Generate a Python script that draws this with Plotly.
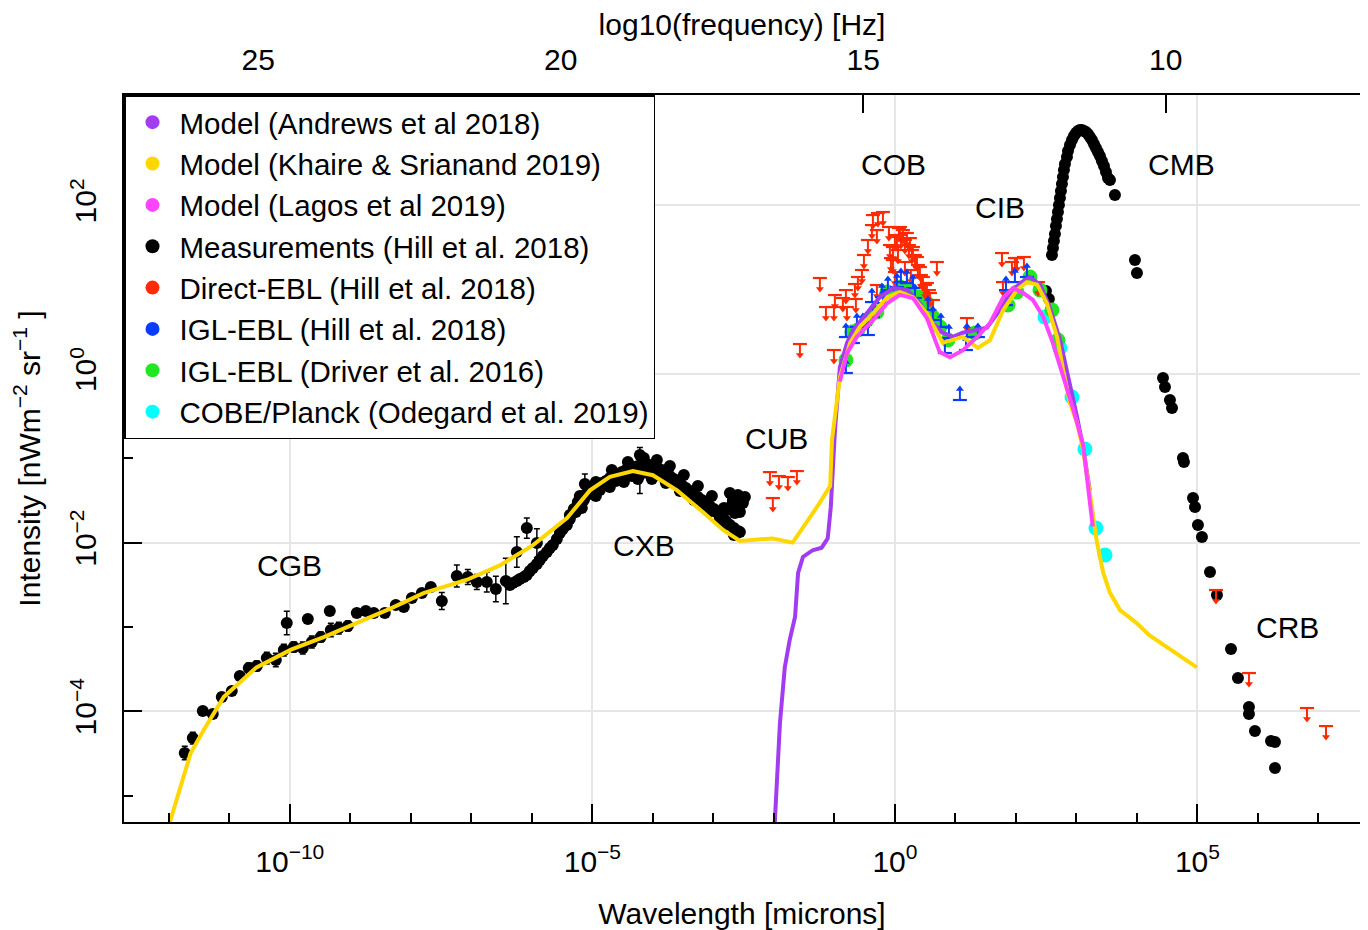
import numpy as np
import plotly.graph_objects as go

# ---------------- DATA (log10 wavelength [micron], log10 intensity [nW m^-2 sr^-1]) -------------
andrews_lwl = [-2.00, -1.983, -1.90, -1.82, -1.74, -1.65, -1.60, -1.52, -1.36, -1.21, -1.11, -1.06, -1.04, -0.99,
               -0.91, -0.79, -0.69, -0.46, -0.25, -0.03, 0.20, 0.41, 0.63, 0.79, 0.96, 1.12, 1.29, 1.52, 1.74,
               1.90, 2.07, 2.23, 2.40, 2.56, 2.73, 2.89, 3.01, 3.11, 3.22]
andrews_lI = [-5.53, -5.31, -4.14, -3.48, -3.16, -2.88, -2.36, -2.17, -2.09, -2.06, -1.95, -1.58, -1.34, -0.66,
              0.08, 0.37, 0.52, 0.72, 0.91, 1.02, 1.00, 0.84, 0.60, 0.49, 0.44, 0.49, 0.52, 0.55, 0.76,
              0.94, 1.08, 1.15, 1.06, 0.79, 0.40, -0.11, -0.51, -0.87, -1.38]

khaire_lwl = [-12.05, -11.98, -11.82, -11.64, -11.42, -11.09, -10.55, -9.98, -9.44, -8.89, -8.33, -7.79, -7.07,
              -6.53, -5.98, -5.42, -5.04, -4.71, -4.33, -4.00, -3.60, -3.17, -2.84, -2.56, -2.31, -2.02, -1.69,
              -1.52, -1.29, -1.07, -1.04, -0.91, -0.74, -0.58, -0.36, -0.13, 0.08, 0.30, 0.53, 0.79, 0.96, 1.12,
              1.37, 1.57, 1.79, 2.02, 2.18, 2.35, 2.51, 2.68, 2.78, 2.89, 3.01, 3.11, 3.22, 3.34, 3.44, 3.55,
              3.72, 3.97, 4.21, 4.63, 4.99]
khaire_lI = [-5.53, -5.31, -4.93, -4.50, -4.22, -3.83, -3.48, -3.27, -3.12, -2.95, -2.78, -2.60, -2.44,
             -2.27, -2.03, -1.71, -1.38, -1.22, -1.15, -1.20, -1.38, -1.64, -1.85, -1.98, -1.97, -1.95, -2.00,
             -1.83, -1.58, -1.33, -0.78, -0.04, 0.37, 0.56, 0.72, 0.91, 0.97, 0.91, 0.72, 0.37, 0.40, 0.44,
             0.31, 0.40, 0.76, 1.00, 1.09, 1.06, 0.84, 0.44, 0.05, -0.34, -0.58, -0.90, -1.41, -2.00, -2.35, -2.59,
             -2.80, -2.94, -3.10, -3.30, -3.48]

lagos_lwl = [-0.91, -0.79, -0.63, -0.36, -0.13, 0.08, 0.30, 0.53, 0.74, 0.91, 1.12, 1.36, 1.57, 1.79, 1.95,
             2.12, 2.28, 2.45, 2.61, 2.78, 2.94, 3.11, 3.27]
lagos_lI = [-0.09, 0.25, 0.44, 0.64, 0.84, 0.94, 0.90, 0.66, 0.26, 0.20, 0.28, 0.44, 0.60, 0.91, 1.02,
            0.96, 0.88, 0.68, 0.37, -0.01, -0.40, -0.84, -1.81]

# Measurements (Hill et al. 2018): CGB, CXB, CIB, CMB, CRB ; err = error bar half length in dex
meas_lwl = [
    # CGB
    -11.736, -11.603, -11.438, -11.273, -11.124, -10.959, -10.826, -10.678, -10.545, -10.380, -10.231, -10.099,
    -10.050, -9.934, -9.785, -9.702, -9.636, -9.488, -9.339, -9.322, -9.190, -9.041, -8.893, -8.744, -8.612,
    -8.430, -8.248, -8.116, -7.983, -7.818, -7.669, -7.488, -7.240, -7.058, -6.909, -6.744, -6.595, -6.430,
    -6.248, -6.083, -5.917,
    # CXB rise
    -6.364, -6.314, -6.248, -6.198, -6.132, -6.083, -6.033, -5.983, -5.917, -5.868, -5.818, -5.752, -5.702,
    -5.653, -5.587, -5.537, -5.488, -5.421, -5.372, -5.322, -5.273, -5.223, -5.174, -5.124, -5.124, -4.926,
    # CXB band
    -5.372, -5.306, -5.240, -5.174, -5.107, -5.041, -4.975, -4.909, -4.843, -4.777, -4.711, -4.645, -4.579,
    -4.512, -4.446, -4.380, -4.314, -4.248, -4.182, -4.116, -4.050, -3.983, -3.917, -3.851, -3.785, -3.719,
    -3.653, -3.587, -3.521, -3.455, -3.388, -3.322, -3.256, -3.190, -3.124, -3.058, -2.992, -2.926, -2.860,
    -2.793, -2.727, -2.661, -2.595,
    -5.273, -5.140, -5.008, -4.876, -4.744, -4.612, -4.479, -4.347, -4.215, -4.083, -3.950, -3.818, -3.686,
    -3.554, -3.421, -3.289, -3.157, -3.025, -2.893, -2.760, -2.628,
    -5.207, -4.942, -4.678, -4.413, -4.149, -3.934, -3.719, -3.488, -3.256, -3.025, -2.826,
    -5.174, -4.942, -4.711, -4.479, -4.248, -4.017, -3.785, -3.554, -3.322, -3.091, -2.860, -2.661,
    -2.777, -2.727, -2.678, -2.645, -2.612, -2.562, -2.512, -2.479, -2.595, -2.694, -2.562,
    -4.215, -4.215,
    # CIB
    2.496, 2.545,
    # CMB
    2.595, 2.612, 2.628, 2.645, 2.661, 2.678, 2.694, 2.711, 2.727, 2.744, 2.760, 2.777, 2.793, 2.810, 2.843,
    2.860, 2.893, 2.926, 2.959, 2.992, 3.025, 3.058, 3.091, 3.124, 3.157, 3.190, 3.223, 3.256, 3.289, 3.322,
    3.355, 3.388, 3.421, 3.455, 3.488, 3.521, 3.554, 3.636,
    # CMB tail / CRB
    3.967, 4.000, 4.430, 4.463, 4.545, 4.579, 4.760, 4.777, 4.926, 4.959, 5.008, 5.074, 5.207, 5.322, 5.554,
    5.669, 5.851, 5.851, 5.950, 6.215, 6.281, 6.281]
meas_lI = [
    -4.496, -4.318, -3.998, -4.033, -3.832, -3.760, -3.582, -3.488, -3.464, -3.369, -3.393, -3.274,
    -2.954, -3.238, -3.250, -2.906, -3.179, -3.120, -2.811, -3.037, -3.013, -2.989, -2.835, -2.811, -2.835,
    -2.835, -2.740, -2.764, -2.657, -2.598, -2.527, -2.693, -2.396, -2.408, -2.467, -2.467, -2.550, -2.456,
    -2.111, -1.827, -2.005,
    -2.503, -2.479, -2.456, -2.432, -2.408, -2.384, -2.337, -2.301, -2.254, -2.206, -2.159, -2.111, -2.064,
    -2.028, -1.957, -1.886, -1.839, -1.791, -1.720, -1.649, -1.590, -1.542, -1.518, -1.459, -1.305, -1.376,
    -1.673, -1.601, -1.518, -1.471, -1.423, -1.388, -1.364, -1.329, -1.293, -1.269, -1.234, -1.210, -1.186,
    -1.163, -1.139, -1.115, -1.103, -1.091, -1.079, -1.068, -1.079, -1.091, -1.115, -1.139, -1.174, -1.210,
    -1.246, -1.281, -1.317, -1.352, -1.388, -1.423, -1.459, -1.495, -1.530, -1.566, -1.601, -1.649, -1.696,
    -1.744, -1.791, -1.827, -1.862,
    -1.637, -1.495, -1.423, -1.376, -1.317, -1.269, -1.234, -1.210, -1.186, -1.174, -1.198, -1.234, -1.281,
    -1.352, -1.423, -1.483, -1.554, -1.625, -1.708, -1.779, -1.898,
    -1.447, -1.281, -1.139, -1.044, -0.996, -1.020, -1.091, -1.198, -1.329, -1.447, -1.590,
    -1.590, -1.447, -1.340, -1.281, -1.246, -1.246, -1.293, -1.388, -1.495, -1.613, -1.756, -1.910,
    -1.613, -1.412, -1.495, -1.649, -1.554, -1.637, -1.530, -1.459, -1.435, -1.554, -1.874,
    -0.961, -1.198,
    0.985, 0.890,
    1.412, 1.495, 1.578, 1.661, 1.756, 1.839, 1.922, 2.005, 2.088, 2.171, 2.254, 2.337, 2.420, 2.491, 2.574,
    2.645, 2.716, 2.776, 2.823, 2.859, 2.883, 2.894, 2.894, 2.883, 2.871, 2.847, 2.811, 2.776, 2.728, 2.681,
    2.633, 2.586, 2.527, 2.467, 2.396, 2.325, 2.301, 2.123,
    1.352, 1.198, -0.047, -0.154, -0.308, -0.403, -0.996, -1.044, -1.471, -1.578, -1.791, -1.934, -2.349,
    -2.622, -3.262, -3.606, -3.950, -4.033, -4.235, -4.354, -4.365, -4.674]
meas_err = (
    [0.08, 0.07, 0, 0, 0.05, 0.05, 0.05, 0.06, 0.06, 0.07, 0.08, 0.07, 0.14, 0.06, 0.07, 0, 0.07, 0.06, 0,
     0.08, 0.07, 0.06, 0, 0, 0, 0, 0, 0, 0, 0, 0, 0.10, 0.13, 0.09, 0.09, 0.12, 0.15, 0.27, 0.18, 0.12, 0.17]
    + [0] * 24 + [0.12, 0]
    + [0] * 43 + [0] * 21 + [0] * 11 + [0] * 12 + [0] * 11
    + [0.09, 0.22]
    + [0] * 2 + [0] * 38 + [0] * 22)

# Direct-EBL (Hill et al. 2018) upper limits
direct_lwl = [-2.066, -1.917, -1.769, -1.620, -2.017,
              -1.240, -1.570, -1.140, -0.992, -1.008, -0.860, -0.810, -0.793, -1.008, -0.661, -0.645, -0.612,
              -0.545, -0.512, -0.446, -0.380, -0.364, -0.298, -0.281, -0.198, -0.298, -0.099, -0.083, -0.066,
              -0.033, 0.000, 0.033, 0.066, 0.083, 0.099, 0.132, 0.165, 0.198, 0.231, 0.248, 0.281, 0.298, 0.331,
              0.364, 0.380, 0.413, 0.430, 0.463, 0.496, 0.529, 0.562, 0.579, 0.628, 0.694, -0.033, 0.050, 0.165,
              0.264, 0.000,
              1.190, 1.769, 1.785, 1.934, 1.983, 2.017, 2.132, 2.364,
              5.306, 5.851, 6.810, 7.124]
direct_lI = [-1.163, -1.210, -1.222, -1.151, -1.471,
             1.139, 0.356, 0.795, 0.937, 0.795, 0.902, 0.996, 0.795, 0.285, 1.068, 0.890, 1.151,
             1.234, 1.412, 1.590, 1.767, 1.886, 1.708, 1.910, 1.922, 1.056, 1.744, 1.530, 1.376,
             1.507, 1.649, 1.625, 1.732, 1.744, 1.649, 1.708, 1.590, 1.673, 1.530, 1.613, 1.471, 1.507, 1.412,
             1.388, 1.293, 1.269, 1.174, 1.151, 1.056, 1.080, 0.996, 0.961, 0.878, 1.329, 1.352, 1.471, 1.329,
             1.234, 1.210,
             0.664, 1.435, 1.091, 1.329, 1.376, 1.376, 1.388, 1.091,
             -2.562, -3.547, -3.962, -4.176]

# IGL-EBL (Hill et al. 2018) lower limits
igl_hill_lwl = [-0.810, -0.810, -0.694, -0.628, -0.529, -0.446, -0.380, -0.364, -0.215, -0.198, -0.116, 0.033,
                0.099, 0.198, 0.298, 0.331, 0.545, 0.628, 0.760, 0.826, 0.893, 1.074, 1.174, 1.190, 1.372,
                1.835, 1.835, 1.983, 2.182]
igl_hill_lI = [0.012, 0.439, 0.368, 0.558, 0.558, 0.463, 0.854, 0.676, 0.913, 0.842, 0.996, 1.032,
               1.091, 1.079, 1.020, 0.902, 0.759, 0.641, 0.558, 0.249, 0.427, -0.308, 0.285, 0.439, 0.439,
               0.818, 0.996, 1.091, 1.151]

# IGL-EBL (Driver et al. 2016)
igl_driver_lwl = [-0.810, -0.711, -0.612, -0.463, -0.298, -0.132, 0.083, 0.248, 0.413, 0.529, 0.628, 0.744,
                  0.876, 1.322, 1.868, 2.017, 2.231, 2.397, 2.595, 2.694]
igl_driver_lI = [0.166, 0.498, 0.522, 0.641, 0.735, 0.973, 1.032, 0.996, 0.913, 0.842, 0.676, 0.558,
                 0.403, 0.486, 0.818, 0.973, 1.151, 0.996, 0.759, 0.403]

# COBE/Planck (Odegard et al. 2019)
odegard_lwl = [2.479, 2.727, 2.926, 3.140, 3.322, 3.471]
odegard_lI = [0.676, 0.308, -0.273, -0.890, -1.827, -2.147]

legend_names = ["Model (Andrews et al 2018)", "Model (Khaire & Srianand 2019)", "Model (Lagos et al 2019)",
                "Measurements (Hill et al. 2018)", "Direct-EBL (Hill et al. 2018)", "IGL-EBL (Hill et al. 2018)",
                "IGL-EBL (Driver et al. 2016)", "COBE/Planck (Odegard et al. 2019)"]
legend_colors = ["#A23CF0", "#FFD700", "#FF44FF", "#000000", "#FF2A00", "#0A3CFF", "#22E622", "#00FFFF"]

region_labels = ["CGB", "CXB", "CUB", "COB", "CIB", "CMB", "CRB"]
region_lwl = [-10.0, -4.15, -1.95, -0.02, 1.74, 4.73, 6.48]
region_lI = [-2.27, -2.03, -0.76, 2.48, 1.97, 2.48, -3.01]

x_ticks = [-10, -5, 0, 5]
y_ticks = [-4, -2, 0, 2]
freq_ticks = [25, 20, 15, 10]

# ---------------- FIGURE ----------------
FONT = "Liberation Sans, Arial, Helvetica, sans-serif"
C_PUR, C_YEL, C_MAG, C_BLK, C_RED, C_BLU, C_GRN, C_CYN = legend_colors


def p10(a):
    return 10 ** np.asarray(a, dtype=float)


fig = go.Figure()

# measurements (black)
mx, my = p10(meas_lwl), p10(meas_lI)
me = np.asarray(meas_err, dtype=float)
fig.add_trace(go.Scatter(
    x=mx, y=my, mode="markers", showlegend=False, hoverinfo="skip",
    marker=dict(color=C_BLK, size=12),
    error_y=dict(type="data", symmetric=False, array=my * (10 ** me - 1), arrayminus=my * (1 - 10 ** -me),
                 color=C_BLK, thickness=1.5, width=3)))

# COBE/Planck (cyan)
fig.add_trace(go.Scatter(x=p10(odegard_lwl), y=p10(odegard_lI), mode="markers", showlegend=False,
                         hoverinfo="skip", marker=dict(color=C_CYN, size=15)))
# Driver (green)
fig.add_trace(go.Scatter(x=p10(igl_driver_lwl), y=p10(igl_driver_lI), mode="markers", showlegend=False,
                         hoverinfo="skip", marker=dict(color=C_GRN, size=15)))

SHAFT = 0.13  # arrow length in dex (visual)


def limit_traces(lwl, lI, color, up):
    x, v = p10(lwl), p10(lI)
    if up:
        err = dict(type="data", symmetric=False, array=v * (10 ** SHAFT - 1), arrayminus=v * 0,
                   color=color, thickness=2, width=0)
        head_y, sym = v * 10 ** SHAFT, "triangle-up"
    else:
        err = dict(type="data", symmetric=False, array=v * 0, arrayminus=v * (1 - 10 ** -SHAFT),
                   color=color, thickness=2, width=0)
        head_y, sym = v * 10 ** -SHAFT, "triangle-down"
    fig.add_trace(go.Scatter(x=x, y=v, mode="markers", showlegend=False, hoverinfo="skip",
                             marker=dict(symbol="line-ew", size=10, color=color,
                                         line=dict(color=color, width=2.2)),
                             error_y=err))
    fig.add_trace(go.Scatter(x=x, y=head_y, mode="markers", showlegend=False, hoverinfo="skip",
                             marker=dict(symbol=sym, size=7, color=color)))


limit_traces(direct_lwl, direct_lI, C_RED, up=False)
limit_traces(igl_hill_lwl, igl_hill_lI, C_BLU, up=True)

# model lines
for lw, li, c in [(andrews_lwl, andrews_lI, C_PUR), (khaire_lwl, khaire_lI, C_YEL), (lagos_lwl, lagos_lI, C_MAG)]:
    fig.add_trace(go.Scatter(x=p10(lw), y=p10(li), mode="lines", showlegend=False, hoverinfo="skip",
                             line=dict(color=c, width=4)))

# legend entries
for name, c in zip(legend_names, legend_colors):
    fig.add_trace(go.Scatter(x=[None], y=[None], mode="markers", name=name,
                             marker=dict(color=c, size=14)))

# dummy trace for top axis
fig.add_trace(go.Scatter(x=[None], y=[None], xaxis="x2", showlegend=False, hoverinfo="skip"))

for t, lx, ly in zip(region_labels, region_lwl, region_lI):
    fig.add_annotation(x=lx, y=ly, xref="x", yref="y", text=t, showarrow=False,
                       font=dict(size=30, color="black", family=FONT))


def sup(n):
    return "10<sup>" + ("\u2212" if n < 0 else "") + str(abs(n)) + "</sup>"


xr = [-12.74, 7.686]
C_LOG = np.log10(2.998e14)  # log10(c) in micron/s
GRID = "#E6E6E6"
fig.update_layout(
    width=1360, height=922,
    margin=dict(l=116, r=8, t=87, b=108),
    paper_bgcolor="white", plot_bgcolor="white",
    font=dict(family=FONT, size=30, color="black"),
    showlegend=True,
    legend=dict(x=0, y=1, xanchor="left", yanchor="top", bgcolor="white", bordercolor="black",
                borderwidth=1.5, font=dict(size=29.5, family=FONT, color="black"), traceorder="normal",
                itemwidth=44),
    xaxis=dict(type="log", range=xr, tickmode="array", tickvals=p10(x_ticks),
               ticktext=[sup(v) for v in x_ticks], ticks="inside", ticklen=18, tickwidth=1.5,
               tickcolor="black", showline=True, linecolor="black", linewidth=1.8, mirror=True,
               showgrid=True, gridcolor=GRID, gridwidth=2, zeroline=False,
               minor=dict(tickmode="array", tickvals=p10(list(range(-12, 8))), ticks="inside", ticklen=9,
                          tickwidth=1.5, tickcolor="black", showgrid=False),
               tickfont=dict(size=30), ticklabelstandoff=12, automargin=False,
               title=dict(text="Wavelength [microns]", font=dict(size=30), standoff=30)),
    xaxis2=dict(overlaying="x", side="top", anchor="y", range=[C_LOG - xr[0], C_LOG - xr[1]],
                tickmode="array", tickvals=freq_ticks, ticktext=[str(v) for v in freq_ticks],
                ticks="inside", ticklen=18, tickwidth=1.5, tickcolor="black", showgrid=False,
                showline=False, zeroline=False, tickfont=dict(size=30), ticklabelstandoff=18,
                automargin=False,
                title=dict(text="log10(frequency) [Hz]", font=dict(size=30), standoff=3)),
    yaxis=dict(type="log", range=[-5.314, 3.31], tickmode="array", tickvals=p10(y_ticks),
               ticktext=[sup(v) for v in y_ticks], tickangle=-90, ticks="inside", ticklen=18, tickwidth=1.5,
               tickcolor="black", showline=True, linecolor="black", linewidth=1.8, mirror=True,
               showgrid=True, gridcolor=GRID, gridwidth=2, zeroline=False,
               minor=dict(tickmode="array", tickvals=p10([-5, -3, -1, 1, 3]), ticks="inside", ticklen=9,
                          tickwidth=1.5, tickcolor="black", showgrid=False),
               tickfont=dict(size=30), ticklabelstandoff=14, automargin=False,
               title=dict(text="Intensity [nWm<sup>\u22122</sup> sr<sup>\u22121</sup> ]", font=dict(size=30),
                          standoff=18)),
)

fig.write_html("out.html")
